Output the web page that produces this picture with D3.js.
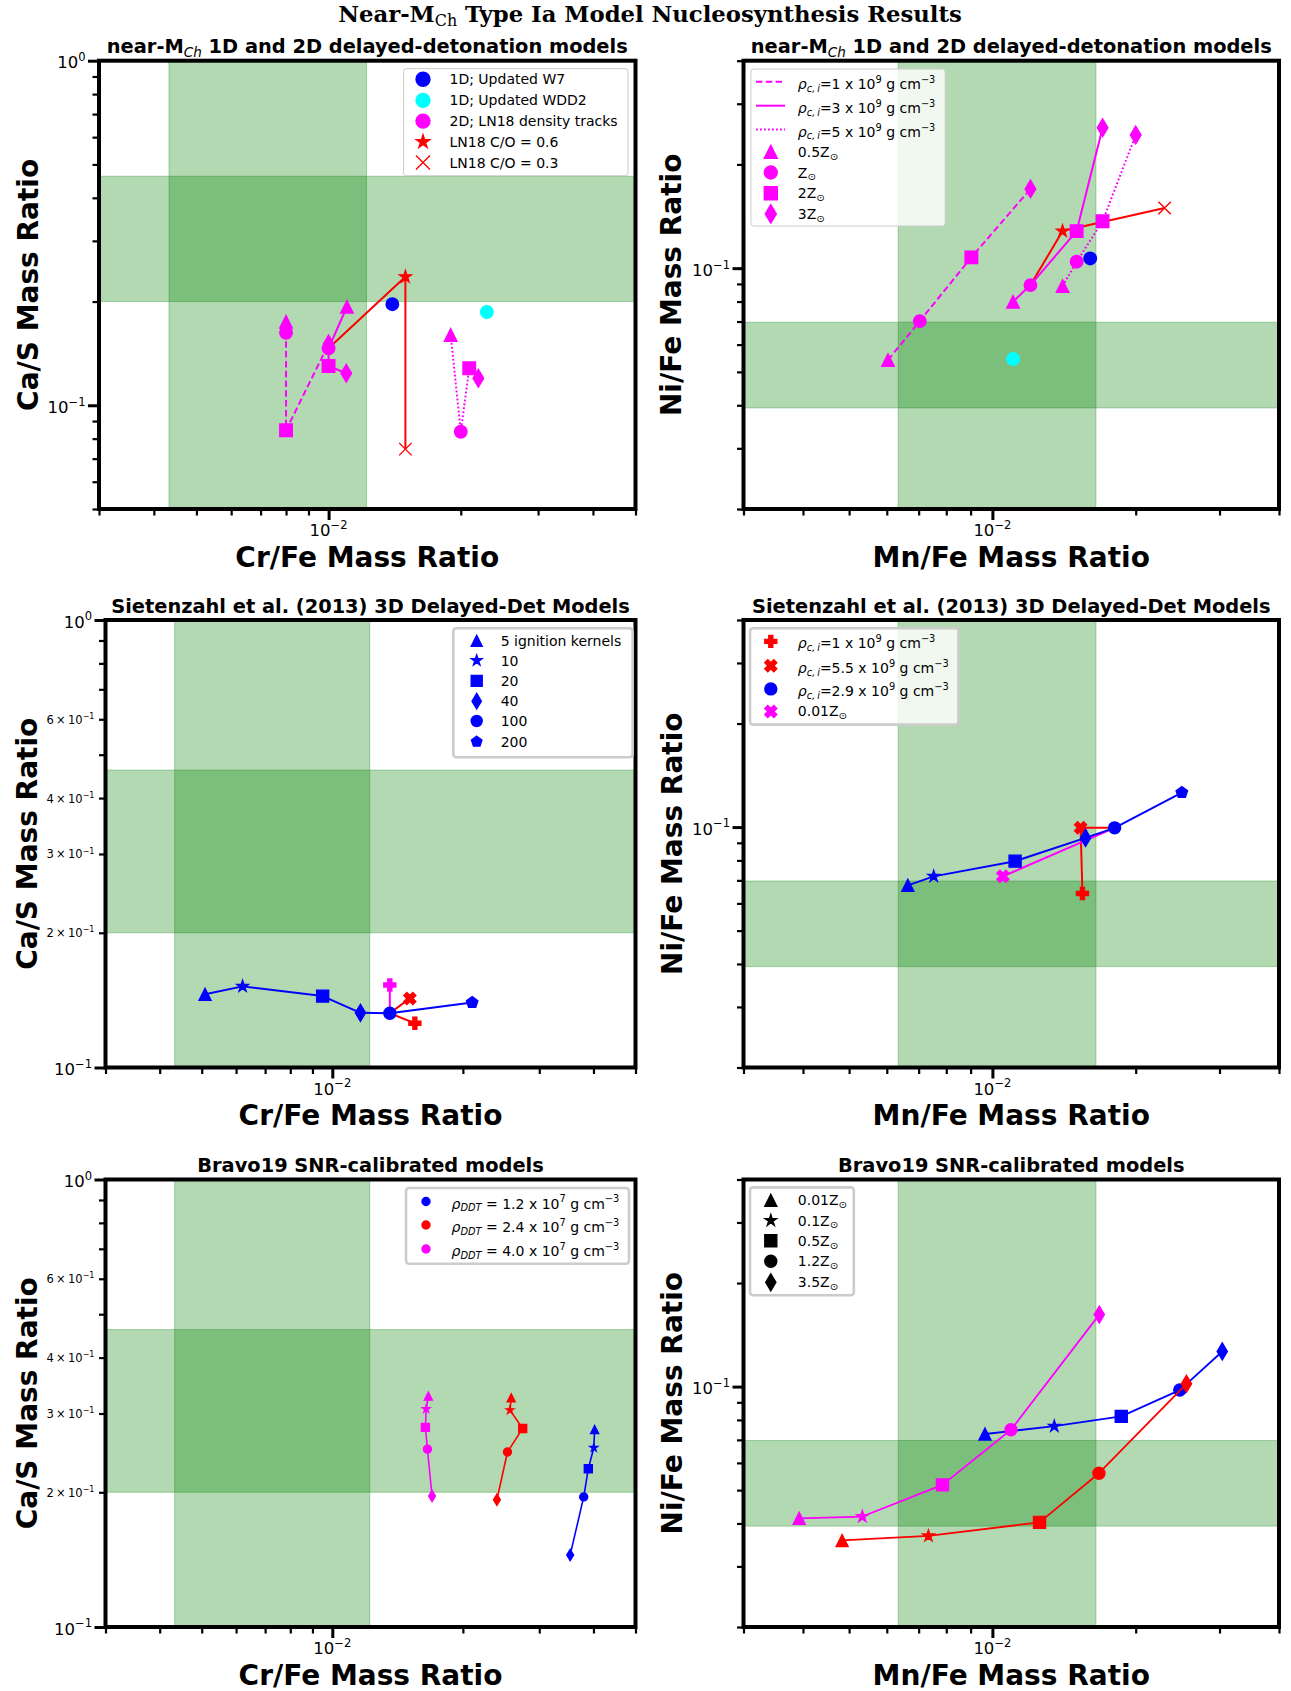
<!DOCTYPE html>
<html>
<head>
<meta charset="utf-8">
<script src="https://cdn.jsdelivr.net/npm/d3@7"></script>
<style>
  body { margin: 0; background: #ffffff; }
  svg { display: block; }
</style>
</head>
<body>
<svg id="fig" width="1291" height="1691"></svg>
<script>
// ================= DATA =================
// Observed abundance-ratio ranges (shaded bands)
const crFeBand = [0.00433, 0.0122];
const caSBand  = [0.200, 0.462];
const mnFeBand = [0.00634, 0.0165];
const niFeBand = [0.0393, 0.0697];

// LN18 2D density tracks; metallicity order 0.5Z, Z, 2Z, 3Z
const ln18Markers  = ["^", "o", "s", "d"];
const ln18Rho1CrFe = [0.0080, 0.0080, 0.0080, 0.0100];
const ln18Rho1CaS  = [0.1748, 0.1624, 0.0846, 0.1506];
const ln18Rho3CrFe = [0.01101, 0.0100, 0.0100, 0.01097];
const ln18Rho3CaS  = [0.1932, 0.1463, 0.1300, 0.1239];
const ln18Rho5CrFe = [0.01897, 0.0200, 0.02091, 0.02193];
const ln18Rho5CaS  = [0.1600, 0.0838, 0.1281, 0.1198];
const ln18Rho1MnFe = [0.006035, 0.007038, 0.009032, 0.01202];
const ln18Rho1NiFe = [0.0541, 0.0702, 0.1075, 0.1698];
const ln18Rho3MnFe = [0.01105, 0.01202, 0.01503, 0.01704];
const ln18Rho3NiFe = [0.0799, 0.0893, 0.1281, 0.2556];
const ln18Rho5MnFe = [0.01404, 0.01503, 0.01704, 0.0200];
const ln18Rho5NiFe = [0.0887, 0.1044, 0.1368, 0.2435];

// 1D models and LN18 C/O variants: [Cr/Fe, Ca/S, Mn/Fe, Ni/Fe]
const w7Ratios   = [0.01397, 0.1965, 0.01605, 0.1067];
const wdd2Ratios = [0.02293, 0.1865, 0.01105, 0.0545];
const co06Ratios = [0.01496, 0.2360, 0.01404, 0.1281];
const co03Ratios = [0.01496, 0.0746, 0.02300, 0.1494];

// Seitenzahl et al. (2013) 3D DDT, number of ignition kernels 5..200
const kernelMarkers = ["^", "*", "s", "d", "o", "p"];
const s13CrFe = [0.005089, 0.006211, 0.00950, 0.01161, 0.01357, 0.02101];
const s13CaS  = [0.1458, 0.1518, 0.1444, 0.1325, 0.1322, 0.1397];
const s13MnFe = [0.006643, 0.007529, 0.01116, 0.01569, 0.01806, 0.0250];
const s13NiFe = [0.0677, 0.0719, 0.0796, 0.0930, 0.0995, 0.1260];
// N100 variants: [Cr/Fe, Ca/S, Mn/Fe, Ni/Fe]
const n100Rho1  = [0.0155, 0.1256, 0.01546, 0.0641];
const n100Rho55 = [0.01509, 0.1427, 0.01532, 0.0995];
const n100Z001  = [0.01357, 0.1529, 0.01052, 0.0719];

// Bravo19 SNR-calibrated models; metallicity order 0.01, 0.1, 0.5, 1.2, 3.5 Z
const b19Markers   = ["^", "*", "s", "o", "d"];
const b19Rho12CrFe = [0.04025, 0.04007, 0.03892, 0.03798, 0.03535];
const b19Rho12CaS  = [0.2763, 0.2515, 0.2257, 0.1953, 0.1449];
const b19Rho24CrFe = [0.02585, 0.02568, 0.02747, 0.02534, 0.02396];
const b19Rho24CaS  = [0.3253, 0.3053, 0.2778, 0.2461, 0.1925];
const b19Rho40CrFe = [0.01665, 0.01646, 0.01639, 0.01657, 0.01698];
const b19Rho40CaS  = [0.3280, 0.3070, 0.2793, 0.2497, 0.1963];
const b19Rho12MnFe = [0.009647, 0.01349, 0.01865, 0.02475, 0.0304];
const b19Rho12NiFe = [0.0728, 0.0767, 0.0819, 0.0977, 0.1265];
const b19Rho24MnFe = [0.004834, 0.007338, 0.01256, 0.01674, 0.02557];
const b19Rho24NiFe = [0.0357, 0.0368, 0.0403, 0.0560, 0.1019];
const b19Rho40MnFe = [0.003927, 0.00533, 0.007853, 0.01094, 0.01677];
const b19Rho40NiFe = [0.0414, 0.0419, 0.0518, 0.0749, 0.1619];

// Axis domains
const crFeDomain = [0.003, 0.05];
const mnFeDomain = [0.003, 0.04];
const caSDomainTop = [0.05, 1];
const caSDomain = [0.1, 1];
const niFeDomain = [0.02, 0.4];

// Text
const figTitle = ["Near-M", "Ch", " Type Ia Model Nucleosynthesis Results"];
const panelTitles = [
  "near-M_{*Ch*} 1D and 2D delayed-detonation models",
  "near-M_{*Ch*} 1D and 2D delayed-detonation models",
  "Sietenzahl et al. (2013) 3D Delayed-Det Models",
  "Sietenzahl et al. (2013) 3D Delayed-Det Models",
  "Bravo19 SNR-calibrated models",
  "Bravo19 SNR-calibrated models"
];
const xLabels = ["Cr/Fe Mass Ratio", "Mn/Fe Mass Ratio"];
const yLabels = ["Ca/S Mass Ratio", "Ni/Fe Mass Ratio"];
const legendLabels1 = ["1D; Updated W7", "1D; Updated WDD2", "2D; LN18 density tracks", "LN18 C/O = 0.6", "LN18 C/O = 0.3"];
const legendLabels2 = [
  "*ρ*_{*c,\u2009i*}=1 x 10^{9} g cm^{\u22123}",
  "*ρ*_{*c,\u2009i*}=3 x 10^{9} g cm^{\u22123}",
  "*ρ*_{*c,\u2009i*}=5 x 10^{9} g cm^{\u22123}",
  "0.5Z_{⊙}", "Z_{⊙}", "2Z_{⊙}", "3Z_{⊙}"
];
const legendLabels3 = ["5 ignition kernels", "10", "20", "40", "100", "200"];
const legendLabels4 = [
  "*ρ*_{*c,\u2009i*}=1 x 10^{9} g cm^{\u22123}",
  "*ρ*_{*c,\u2009i*}=5.5 x 10^{9} g cm^{\u22123}",
  "*ρ*_{*c,\u2009i*}=2.9 x 10^{9} g cm^{\u22123}",
  "0.01Z_{⊙}"
];
const legendLabels5 = [
  "*ρ*_{*DDT*} = 1.2 x 10^{7} g cm^{\u22123}",
  "*ρ*_{*DDT*} = 2.4 x 10^{7} g cm^{\u22123}",
  "*ρ*_{*DDT*} = 4.0 x 10^{7} g cm^{\u22123}"
];
const legendLabels6 = ["0.01Z_{⊙}", "0.1Z_{⊙}", "0.5Z_{⊙}", "1.2Z_{⊙}", "3.5Z_{⊙}"];
const minorYLabelValues = [0.2, 0.3, 0.4, 0.6];

// ================= STYLE / LAYOUT =================
const C = { blue: "#0000ff", cyan: "#00ffff", magenta: "#ff00ff", red: "#ff0000", black: "#000000", green: "#008000" };
const FONT = "'DejaVu Sans', 'Liberation Sans', sans-serif";
const DASHED = "6.5,3.3";
const DOTTED = "1.8,2.2";

const svg = d3.select("#fig");
const defs = svg.append("defs");

// ---------- rich text (super/subscripts, italics) ----------
function parseRich(str) {
  const parts = [];
  let buf = "", it = false, mode = null;
  const push = () => { if (buf) parts.push({ t: buf, it, mode }); buf = ""; };
  for (let i = 0; i < str.length; i++) {
    const c = str[i];
    if ((c === "^" || c === "_") && str[i + 1] === "{") { push(); mode = c === "^" ? "sup" : "sub"; i++; continue; }
    if (c === "}" && mode) { push(); mode = null; continue; }
    if (c === "*") { push(); it = !it; continue; }
    buf += c;
  }
  push();
  return parts;
}

function richText(g, str, size, x, y, opts = {}) {
  const t = g.append("text")
    .attr("x", x).attr("y", y)
    .attr("font-family", opts.family || FONT)
    .attr("font-size", size)
    .attr("font-weight", opts.weight || "normal")
    .attr("text-anchor", opts.anchor || "start")
    .attr("fill", "#000");
  if (opts.rotate) t.attr("transform", `rotate(${opts.rotate},${x},${y})`);
  let shift = 0;
  parseRich(str).forEach(p => {
    const target = p.mode === "sup" ? -0.43 * size : p.mode === "sub" ? 0.2 * size : 0;
    const ts = t.append("tspan").text(p.t);
    if (target - shift !== 0) ts.attr("dy", target - shift);
    shift = target;
    if (p.mode) ts.attr("font-size", size * 0.7);
    if (p.it) ts.attr("font-style", "italic").attr("font-weight", "normal");
  });
  return t;
}

// ---------- marker shapes (sizes in px) ----------
function markerPath(type, s) {
  const h = s / 2;
  const p = d3.path();
  const poly = pts => { pts.forEach(([px, py], i) => i ? p.lineTo(px, py) : p.moveTo(px, py)); p.closePath(); };
  switch (type) {
    case "o": p.moveTo(h, 0); p.arc(0, 0, h, 0, 2 * Math.PI); p.closePath(); break;
    case "^": poly([[0, -h], [h, h], [-h, h]]); break;
    case "s": poly([[-h, -h], [h, -h], [h, h], [-h, h]]); break;
    case "d": { const a = 0.7071 * s, b = 0.6 * a; poly([[0, -a], [b, 0], [0, a], [-b, 0]]); break; }
    case "*": {
      const pts = [];
      for (let i = 0; i < 10; i++) {
        const r = i % 2 ? h * 0.381966 : h, ang = -Math.PI / 2 + i * Math.PI / 5;
        pts.push([r * Math.cos(ang), r * Math.sin(ang)]);
      }
      poly(pts); break;
    }
    case "p": {
      const pts = [];
      for (let i = 0; i < 5; i++) { const ang = -Math.PI / 2 + i * 2 * Math.PI / 5; pts.push([h * Math.cos(ang), h * Math.sin(ang)]); }
      poly(pts); break;
    }
    case "P": { const u = s / 6; poly([[-u, -3 * u], [u, -3 * u], [u, -u], [3 * u, -u], [3 * u, u], [u, u], [u, 3 * u], [-u, 3 * u], [-u, u], [-3 * u, u], [-3 * u, -u], [-u, -u]]); break; }
    case "X": { const u = s / 4; poly([[-u, -2 * u], [0, -u], [u, -2 * u], [2 * u, -u], [u, 0], [2 * u, u], [u, 2 * u], [0, u], [-u, 2 * u], [-2 * u, u], [-u, 0], [-2 * u, -u]]); break; }
    case "x": p.moveTo(-h, -h); p.lineTo(h, h); p.moveTo(-h, h); p.lineTo(h, -h); break;
  }
  return p.toString();
}

function drawMarker(g, type, x, y, s, color) {
  const el = g.append("path").attr("d", markerPath(type, s)).attr("transform", `translate(${x},${y})`);
  if (type === "x") el.attr("fill", "none").attr("stroke", color).attr("stroke-width", 1.4);
  else el.attr("fill", color).attr("stroke", color).attr("stroke-width", 1.4).attr("stroke-linejoin", "miter");
}

// ---------- axes ----------
const isDecade = v => Math.abs(Math.log10(v) - Math.round(Math.log10(v))) < 1e-9;
const expOf = v => Math.round(Math.log10(v));
const expText = e => (e < 0 ? "\u2212" : "") + Math.abs(e);

function makePanel(cfg) {
  const { l, r, t, b } = cfg.box;
  const x = d3.scaleLog().domain(cfg.xDomain).range([l, r]);
  const y = d3.scaleLog().domain(cfg.yDomain).range([b, t]);
  const g = svg.append("g");

  const clipId = "clip-" + cfg.id;
  defs.append("clipPath").attr("id", clipId)
    .append("rect").attr("x", l).attr("y", t).attr("width", r - l).attr("height", b - t);
  const plot = g.append("g").attr("clip-path", `url(#${clipId})`);

  // shaded observational ranges
  plot.append("rect")
    .attr("x", x(cfg.xBand[0])).attr("width", x(cfg.xBand[1]) - x(cfg.xBand[0]))
    .attr("y", t).attr("height", b - t)
    .attr("fill", C.green).attr("fill-opacity", 0.3)
    .attr("stroke", C.green).attr("stroke-opacity", 0.3).attr("stroke-width", 1);
  plot.append("rect")
    .attr("x", l).attr("width", r - l)
    .attr("y", y(cfg.yBand[1])).attr("height", y(cfg.yBand[0]) - y(cfg.yBand[1]))
    .attr("fill", C.green).attr("fill-opacity", 0.3)
    .attr("stroke", C.green).attr("stroke-opacity", 0.3).attr("stroke-width", 1);

  // ticks via d3 axes
  const xt = x.ticks(), yt = y.ticks();
  const styleAxis = (sel, w) => {
    sel.select(".domain").remove();
    sel.selectAll(".tick line").attr("stroke", "#000").attr("stroke-width", w);
    sel.selectAll(".tick text").remove();
  };
  const axesG = g.append("g");
  axesG.append("g").attr("transform", `translate(0,${b})`)
    .call(d3.axisBottom(x).tickValues(xt.filter(v => !isDecade(v))).tickSize(6.5).tickSizeOuter(0).tickFormat(""))
    .call(s => styleAxis(s, 2.2));
  axesG.append("g").attr("transform", `translate(0,${b})`)
    .call(d3.axisBottom(x).tickValues(xt.filter(isDecade)).tickSize(11).tickSizeOuter(0).tickFormat(""))
    .call(s => styleAxis(s, 3));
  axesG.append("g").attr("transform", `translate(${l},0)`)
    .call(d3.axisLeft(y).tickValues(yt.filter(v => !isDecade(v))).tickSize(6.5).tickSizeOuter(0).tickFormat(""))
    .call(s => styleAxis(s, 2.2));
  axesG.append("g").attr("transform", `translate(${l},0)`)
    .call(d3.axisLeft(y).tickValues(yt.filter(isDecade)).tickSize(11).tickSizeOuter(0).tickFormat(""))
    .call(s => styleAxis(s, 3));

  // tick labels
  xt.filter(isDecade).forEach(v => richText(axesG, "10^{" + expText(expOf(v)) + "}", 16.5, x(v), b + 27, { anchor: "middle" }));
  yt.filter(isDecade).forEach(v => richText(axesG, "10^{" + expText(expOf(v)) + "}", 16.5, l - 13.5, y(v) + 7.5, { anchor: "end" }));
  if (cfg.minorYLabels) {
    cfg.minorYLabels.forEach(v => {
      const e = Math.floor(Math.log10(v) + 1e-9);
      const m = Math.round(v / Math.pow(10, e));
      richText(axesG, m + "\u2009×\u200910^{" + expText(e) + "}", 11.5, l - 11, y(v) + 4.5, { anchor: "end" });
    });
  }

  // frame
  g.append("rect").attr("x", l).attr("y", t).attr("width", r - l).attr("height", b - t)
    .attr("fill", "none").attr("stroke", "#000").attr("stroke-width", 4);

  // labels and title
  richText(g, cfg.title, 19.4, (l + r) / 2, t - 7.5, { anchor: "middle", weight: "bold" });
  richText(g, cfg.xLabel, 28, (l + r) / 2, b + 57.5, { anchor: "middle", weight: "bold" });
  richText(g, cfg.yLabel, 28, cfg.yLabelX, (t + b) / 2, { anchor: "middle", weight: "bold", rotate: -90 });

  return { x, y, plot, g };
}

function drawSeries(P, xs, ys, opt) {
  const pts = xs.map((v, i) => [P.x(v), P.y(ys[i])]);
  if (opt.line !== false) {
    P.plot.append("path").attr("d", d3.line()(pts))
      .attr("fill", "none").attr("stroke", opt.color).attr("stroke-width", opt.lw || 2)
      .attr("stroke-dasharray", opt.dash || null).attr("stroke-linejoin", "round");
  }
  if (opt.markers) pts.forEach((p, i) => { const m = opt.markers[i]; if (m) drawMarker(P.plot, m, p[0], p[1], opt.ms, opt.color); });
}

function drawLegend(spec) {
  const g = svg.append("g");
  g.append("rect").attr("x", spec.x).attr("y", spec.y).attr("width", spec.w).attr("height", spec.h)
    .attr("rx", 3).attr("ry", 3)
    .attr("fill", "#ffffff").attr("fill-opacity", 0.8)
    .attr("stroke", "#cccccc").attr("stroke-width", spec.border);
  spec.items.forEach((it, i) => {
    const cy = spec.rows[i];
    if (it.dash !== undefined) {
      g.append("line").attr("x1", spec.lineX[0]).attr("x2", spec.lineX[1]).attr("y1", cy).attr("y2", cy)
        .attr("stroke", it.color).attr("stroke-width", 2).attr("stroke-dasharray", it.dash || null);
    }
    if (it.marker) drawMarker(g, it.marker, spec.markerX, cy, it.ms || spec.ms, it.color);
    richText(g, it.label, 14, spec.textX, cy + (it.dy || 5));
  });
}

// ================= FIGURE TITLE =================
(function () {
  const build = size => {
    const t = svg.append("text").attr("x", 650).attr("y", 21.5).attr("text-anchor", "middle")
      .attr("font-family", "'DejaVu Serif', 'Liberation Serif', serif").attr("font-weight", "bold").attr("font-size", size);
    t.append("tspan").text(figTitle[0]);
    t.append("tspan").attr("dy", size * 0.18).attr("font-size", size * 0.7).attr("font-weight", "normal").text(figTitle[1]);
    t.append("tspan").attr("dy", -size * 0.18).text(figTitle[2]);
    return t;
  };
  const probe = build(20);
  const w = probe.node().getComputedTextLength();
  probe.remove();
  build(Math.min(23, 20 * 624 / w));
})();

// ================= PANELS =================
const leftA = { l: 99, r: 635.5 }, leftB = { l: 105.5, r: 635.5 }, right = { l: 743.5, r: 1279 };
const rows = [{ t: 60.7, b: 509 }, { t: 620, b: 1067.5 }, { t: 1179.5, b: 1627 }];

// ---- Panel 1: Cr/Fe vs Ca/S, near-MCh 1D/2D ----
const P1 = makePanel({ id: "p1", box: { ...leftA, ...rows[0] }, xDomain: crFeDomain, yDomain: caSDomainTop,
  xBand: crFeBand, yBand: caSBand, title: panelTitles[0], xLabel: xLabels[0], yLabel: yLabels[0], yLabelX: 38 });
drawSeries(P1, [ln18Rho3CrFe[1], co06Ratios[0], co03Ratios[0]], [ln18Rho3CaS[1], co06Ratios[1], co03Ratios[1]],
  { color: C.red, markers: [null, "*", "x"], ms: 12.5, lw: 2 });
drawSeries(P1, ln18Rho1CrFe, ln18Rho1CaS, { color: C.magenta, dash: DASHED, markers: ln18Markers, ms: 12.5 });
drawSeries(P1, ln18Rho3CrFe, ln18Rho3CaS, { color: C.magenta, markers: ln18Markers, ms: 12.5 });
drawSeries(P1, ln18Rho5CrFe, ln18Rho5CaS, { color: C.magenta, dash: DOTTED, markers: ln18Markers, ms: 12.5 });
drawSeries(P1, [w7Ratios[0]], [w7Ratios[1]], { color: C.blue, line: false, markers: ["o"], ms: 12.5 });
drawSeries(P1, [wdd2Ratios[0]], [wdd2Ratios[1]], { color: C.cyan, line: false, markers: ["o"], ms: 12.5 });

// ---- Panel 2: Mn/Fe vs Ni/Fe, near-MCh 1D/2D ----
const P2 = makePanel({ id: "p2", box: { ...right, ...rows[0] }, xDomain: mnFeDomain, yDomain: niFeDomain,
  xBand: mnFeBand, yBand: niFeBand, title: panelTitles[1], xLabel: xLabels[1], yLabel: yLabels[1], yLabelX: 681.5 });
drawSeries(P2, [ln18Rho3MnFe[1], co06Ratios[2], co03Ratios[2]], [ln18Rho3NiFe[1], co06Ratios[3], co03Ratios[3]],
  { color: C.red, markers: [null, "*", "x"], ms: 12.5, lw: 2 });
drawSeries(P2, ln18Rho1MnFe, ln18Rho1NiFe, { color: C.magenta, dash: DASHED, markers: ln18Markers, ms: 12.5 });
drawSeries(P2, ln18Rho3MnFe, ln18Rho3NiFe, { color: C.magenta, markers: ln18Markers, ms: 12.5 });
drawSeries(P2, ln18Rho5MnFe, ln18Rho5NiFe, { color: C.magenta, dash: DOTTED, markers: ln18Markers, ms: 12.5 });
drawSeries(P2, [w7Ratios[2]], [w7Ratios[3]], { color: C.blue, line: false, markers: ["o"], ms: 12.5 });
drawSeries(P2, [wdd2Ratios[2]], [wdd2Ratios[3]], { color: C.cyan, line: false, markers: ["o"], ms: 12.5 });

// ---- Panel 3: Cr/Fe vs Ca/S, Seitenzahl 2013 ----
const P3 = makePanel({ id: "p3", box: { ...leftB, ...rows[1] }, xDomain: crFeDomain, yDomain: caSDomain,
  xBand: crFeBand, yBand: caSBand, title: panelTitles[2], xLabel: xLabels[0], yLabel: yLabels[0], yLabelX: 37,
  minorYLabels: minorYLabelValues });
drawSeries(P3, [n100Rho1[0], s13CrFe[4], n100Rho55[0]], [n100Rho1[1], s13CaS[4], n100Rho55[1]],
  { color: C.red, markers: ["P", null, "X"], ms: 12 });
drawSeries(P3, [n100Z001[0], s13CrFe[4]], [n100Z001[1], s13CaS[4]], { color: C.magenta, markers: ["P", null], ms: 12 });
drawSeries(P3, s13CrFe, s13CaS, { color: C.blue, markers: kernelMarkers, ms: 12 });

// ---- Panel 4: Mn/Fe vs Ni/Fe, Seitenzahl 2013 ----
const P4 = makePanel({ id: "p4", box: { ...right, ...rows[1] }, xDomain: mnFeDomain, yDomain: niFeDomain,
  xBand: mnFeBand, yBand: niFeBand, title: panelTitles[3], xLabel: xLabels[1], yLabel: yLabels[1], yLabelX: 682 });
drawSeries(P4, [s13MnFe[4], n100Rho55[2], n100Rho1[2]], [s13NiFe[4], n100Rho55[3], n100Rho1[3]],
  { color: C.red, markers: [null, "X", "P"], ms: 12 });
drawSeries(P4, [n100Z001[2], s13MnFe[4]], [n100Z001[3], s13NiFe[4]], { color: C.magenta, markers: ["X", null], ms: 12 });
drawSeries(P4, s13MnFe, s13NiFe, { color: C.blue, markers: kernelMarkers, ms: 12 });

// ---- Panel 5: Cr/Fe vs Ca/S, Bravo19 ----
const P5 = makePanel({ id: "p5", box: { ...leftB, ...rows[2] }, xDomain: crFeDomain, yDomain: caSDomain,
  xBand: crFeBand, yBand: caSBand, title: panelTitles[4], xLabel: xLabels[0], yLabel: yLabels[0], yLabelX: 37,
  minorYLabels: minorYLabelValues });
drawSeries(P5, b19Rho12CrFe, b19Rho12CaS, { color: C.blue, markers: b19Markers, ms: 8, lw: 1.6 });
drawSeries(P5, b19Rho24CrFe, b19Rho24CaS, { color: C.red, markers: b19Markers, ms: 8, lw: 1.6 });
drawSeries(P5, b19Rho40CrFe, b19Rho40CaS, { color: C.magenta, markers: b19Markers, ms: 8, lw: 1.6 });

// ---- Panel 6: Mn/Fe vs Ni/Fe, Bravo19 ----
const P6 = makePanel({ id: "p6", box: { ...right, ...rows[2] }, xDomain: mnFeDomain, yDomain: niFeDomain,
  xBand: mnFeBand, yBand: niFeBand, title: panelTitles[5], xLabel: xLabels[1], yLabel: yLabels[1], yLabelX: 682 });
drawSeries(P6, b19Rho12MnFe, b19Rho12NiFe, { color: C.blue, markers: b19Markers, ms: 12, lw: 1.8 });
drawSeries(P6, b19Rho24MnFe, b19Rho24NiFe, { color: C.red, markers: b19Markers, ms: 12, lw: 1.8 });
drawSeries(P6, b19Rho40MnFe, b19Rho40NiFe, { color: C.magenta, markers: b19Markers, ms: 12, lw: 1.8 });

// ================= LEGENDS =================
drawLegend({ x: 403.5, y: 68.6, w: 224.5, h: 107.1, border: 1, markerX: 423, textX: 449.5, ms: 14,
  rows: [79.3, 100.4, 121.1, 141.8, 162.5],
  items: [
    { label: legendLabels1[0], marker: "o", color: C.blue },
    { label: legendLabels1[1], marker: "o", color: C.cyan },
    { label: legendLabels1[2], marker: "o", color: C.magenta },
    { label: legendLabels1[3], marker: "*", color: C.red },
    { label: legendLabels1[4], marker: "x", color: C.red }
  ] });

drawLegend({ x: 750.9, y: 69, w: 194.3, h: 157, border: 1, markerX: 770.8, textX: 797.8, lineX: [756, 785], ms: 13,
  rows: [81.8, 105.7, 129.6, 151.8, 172.5, 193.2, 213.9],
  items: [
    { label: legendLabels2[0], dash: DASHED, color: C.magenta, dy: 7 },
    { label: legendLabels2[1], dash: null, color: C.magenta, dy: 7 },
    { label: legendLabels2[2], dash: DOTTED, color: C.magenta, dy: 7 },
    { label: legendLabels2[3], marker: "^", color: C.magenta },
    { label: legendLabels2[4], marker: "o", color: C.magenta },
    { label: legendLabels2[5], marker: "s", color: C.magenta },
    { label: legendLabels2[6], marker: "d", color: C.magenta }
  ] });

drawLegend({ x: 453.3, y: 628.3, w: 179.4, h: 129, border: 2.6, markerX: 476.7, textX: 500.7, ms: 11,
  rows: [640.7, 660.5, 680.9, 701.2, 721, 741.7],
  items: kernelMarkers.map((m, i) => ({ label: legendLabels3[i], marker: m, color: C.blue })) });

drawLegend({ x: 750, y: 628.2, w: 208.4, h: 96.4, border: 2.6, markerX: 770.8, textX: 797.8, ms: 12,
  rows: [641.4, 665.7, 688.9, 711.4],
  items: [
    { label: legendLabels4[0], marker: "P", color: C.red, dy: 7 },
    { label: legendLabels4[1], marker: "X", color: C.red, dy: 7 },
    { label: legendLabels4[2], marker: "o", color: C.blue, dy: 7 },
    { label: legendLabels4[3], marker: "X", color: C.magenta }
  ] });

drawLegend({ x: 406, y: 1188, w: 223, h: 75.7, border: 2.6, markerX: 426, textX: 451.6, ms: 8,
  rows: [1201.5, 1225, 1249],
  items: [
    { label: legendLabels5[0], marker: "o", color: C.blue, dy: 7 },
    { label: legendLabels5[1], marker: "o", color: C.red, dy: 7 },
    { label: legendLabels5[2], marker: "o", color: C.magenta, dy: 7 }
  ] });

drawLegend({ x: 750, y: 1187.4, w: 103.8, h: 107.9, border: 2.6, markerX: 770.8, textX: 797.8, ms: 12,
  rows: [1200.4, 1220.5, 1240.8, 1261.2, 1282.3],
  items: b19Markers.map((m, i) => ({ label: legendLabels6[i], marker: m, color: C.black })) });
</script>
</body>
</html>
